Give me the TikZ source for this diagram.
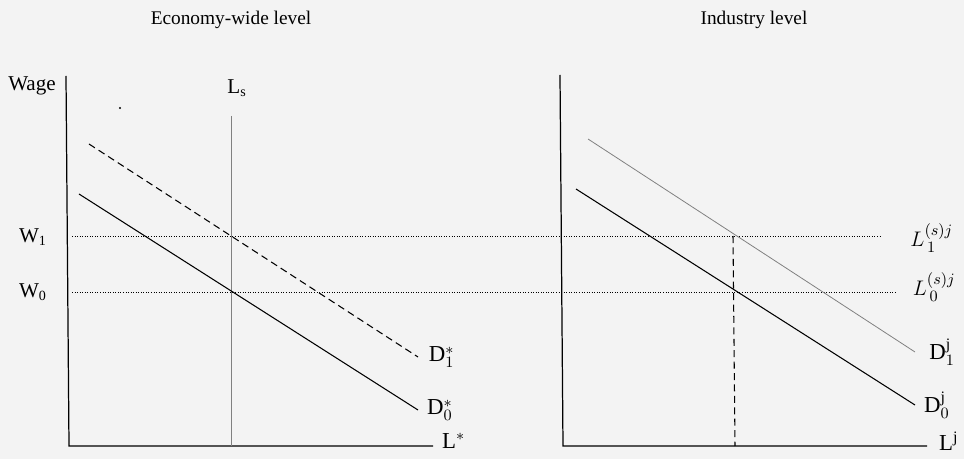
\documentclass[tikz,border=0pt]{standalone}
\usepackage{fontspec}
\setmainfont{Liberation Serif}
\definecolor{paper}{RGB}{243,243,243}
\begin{document}
\begin{tikzpicture}[x=0.02cm, y=-0.02cm,
    axis/.style={line width=0.7pt},
    demand/.style={line width=0.6pt},
    guide/.style={densely dotted, line width=0.45pt},
    lbl/.style={font=\fontsize{11}{13}\selectfont, inner sep=1pt},
    tag/.style={font=\fontsize{13}{15}\selectfont, inner sep=1pt, anchor=west}]
    \fill[paper] (0,0) rectangle (964,459);
    \useasboundingbox (0,0) rectangle (964,459);

    % ========== left: economy-wide level ==========
    \node[lbl] (titleL) at (231,20) {Economy-wide level};
    \node[lbl, font=\fontsize{12}{14}\selectfont] (wage) at (32,86) {Wage};
    \draw[axis] (66,76) -- (69,446) coordinate (oL) -- (433,446) coordinate (xL);
    \node[tag] (lstar) at (440,441) {L$^*$};

    \node[lbl, font=\fontsize{12}{14}\selectfont] (ls) at (237,88) {L\textsubscript{s}};
    \draw[gray, line width=0.4pt] (231,116) -- (231,446);
    \fill (120,108) circle (1.1);

    \draw[demand, dash pattern=on 4pt off 2.5pt] (89,144) -- (418,357) coordinate (d1L);
    \node[tag] (D1s) at (d1L) [xshift=5pt] {D$_1^*$};
    \draw[demand] (79,194) -- (418,410) coordinate (d0L);
    \node[tag] (D0s) at (d0L) [xshift=4pt] {D$_0^*$};

    \node[lbl, font=\fontsize{12}{14}\selectfont] (w1) at (33,237) {W\textsubscript{1}};
    \node[lbl, font=\fontsize{12}{14}\selectfont] (w0) at (33,292) {W\textsubscript{0}};

    % ========== wage lines across both panels ==========
    \draw[guide] (72,236) -- (882,236) coordinate (w1end);
    \draw[guide] (72,292) -- (895,292) coordinate (w0end);

    % ========== right: industry level ==========
    \node[lbl] (titleR) at (754,20) {Industry level};
    \draw[axis] (560,75) -- (563,446) coordinate (oR) -- (927,446) coordinate (xR);
    \node[tag] (lj) at (937,441) {L$^{\mathrm{j}}$};

    \draw[gray, line width=0.45pt] (588,139) -- (915,352) coordinate (d1R);
    \node[tag] (D1j) at (d1R) [xshift=7pt] {D$_1^{\mathrm{j}}$};
    \draw[demand] (576,189) -- (915,405) coordinate (d0R);
    \node[tag] (D0j) at (d0R) [xshift=4pt] {D$_0^{\mathrm{j}}$};

    \draw[dash pattern=on 4pt off 2.5pt, line width=0.6pt] (733,236) -- (735,446);

    \node[tag, font=\fontsize{12.5}{14}\selectfont] (ls1) at (w1end) [xshift=15pt, yshift=-1pt] {$L_{\,1}^{(s)j}$};
    \node[tag, font=\fontsize{12.5}{14}\selectfont] (ls0) at (w0end) [xshift=9pt, yshift=3pt] {$L_{\,0}^{(s)j}$};
\end{tikzpicture}
\end{document}
